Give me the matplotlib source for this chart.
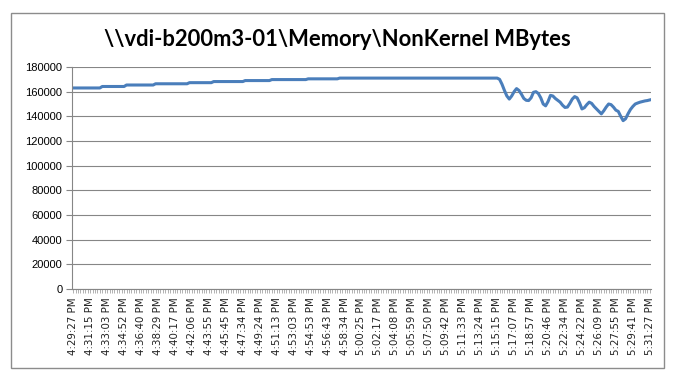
import numpy as np
import matplotlib
matplotlib.use("Agg")
import matplotlib.pyplot as plt
from matplotlib.patches import Rectangle

# time labels shown on the category axis (every 7th sample)
tick_labels = [
    "4:29:27 PM", "4:31:15 PM", "4:33:03 PM", "4:34:52 PM", "4:36:40 PM",
    "4:38:29 PM", "4:40:17 PM", "4:42:06 PM", "4:43:55 PM", "4:45:45 PM",
    "4:47:34 PM", "4:49:24 PM", "4:51:13 PM", "4:53:03 PM", "4:54:53 PM",
    "4:56:43 PM", "4:58:34 PM", "5:00:25 PM", "5:02:17 PM", "5:04:08 PM",
    "5:05:59 PM", "5:07:50 PM", "5:09:42 PM", "5:11:33 PM", "5:13:24 PM",
    "5:15:15 PM", "5:17:07 PM", "5:18:57 PM", "5:20:46 PM", "5:22:34 PM",
    "5:24:22 PM", "5:26:09 PM", "5:27:55 PM", "5:29:41 PM", "5:31:27 PM",
]
label_step = 7

# slow climb: plateau values (MBytes) and how many samples each lasts
plateau_values = [163000, 164200, 165400, 166400, 167300,
                  168200, 169000, 169800, 170400, 171000]
plateau_lengths = [12, 10, 12, 14, 10, 13, 11, 15, 13, 66]

# after ~5:15 PM the value oscillates downward
tail_values = [
    170000, 166000, 161000, 156500, 154000, 156500, 160000, 162500, 161000, 158000,
    154500, 153000, 152800, 155000, 159500, 160000, 158500, 155000, 150000, 148500,
    152000, 157000, 156500, 154500, 153000, 151500, 149000, 147200, 147500, 150500,
    154000, 156000, 155000, 151000, 146000, 147000, 149500, 151500, 150500, 148000,
    146000, 144000, 142000, 144500, 147500, 150000, 149500, 147500, 145000, 144000,
    140000, 136500, 138000, 142000, 145500, 148000, 150000, 150800, 151500,
    152000, 152500, 152800, 153300,
]

values = []
for v, n in zip(plateau_values, plateau_lengths):
    values += [v] * n
values += tail_values
x = np.arange(len(values))

fig = plt.figure(figsize=(6.78, 3.82), dpi=100)
W, H = 678, 382

# outer chart border
fig.patches.append(Rectangle((11 / W, 1 - 368 / H), 653 / W, 355 / H,
                             transform=fig.transFigure, fill=False,
                             edgecolor="#8c8c8c", linewidth=1.0))

ax = fig.add_axes([72 / W, 1 - 289 / H, 579 / W, 222 / H])
ax.plot(x, values, color="#4a7ebb", linewidth=2.2, solid_joinstyle="round")

ax.set_xlim(-0.5, len(values) - 0.5)
ax.set_ylim(0, 180000)
ax.set_yticks(np.arange(0, 180001, 20000))
ax.yaxis.grid(True, color="#868686", linewidth=0.8)
ax.set_axisbelow(True)

ax.set_xticks(np.arange(0, len(values), label_step))
ax.set_xticklabels(tick_labels, rotation=90, fontsize=7.4,
                   family="DejaVu Sans", color="#222222")
ax.set_xticks(x, minor=True)
ax.tick_params(axis="x", which="both", length=3, color="#a6a6a6", width=0.6, pad=3)
ax.tick_params(axis="y", length=4, color="#868686", width=0.8, labelsize=8, pad=3)
for lab in ax.get_yticklabels():
    lab.set_family("Liberation Sans")

for side in ["top", "right"]:
    ax.spines[side].set_visible(False)
for side in ["left", "bottom"]:
    ax.spines[side].set_color("#868686")
    ax.spines[side].set_linewidth(0.8)

fig.text(337 / W, 1 - 39 / H, r"\\vdi-b200m3-01\Memory\NonKernel MBytes",
         ha="center", va="center", fontsize=15.8, fontweight="bold", family="Lato")

fig.savefig("out.png", dpi=100)
